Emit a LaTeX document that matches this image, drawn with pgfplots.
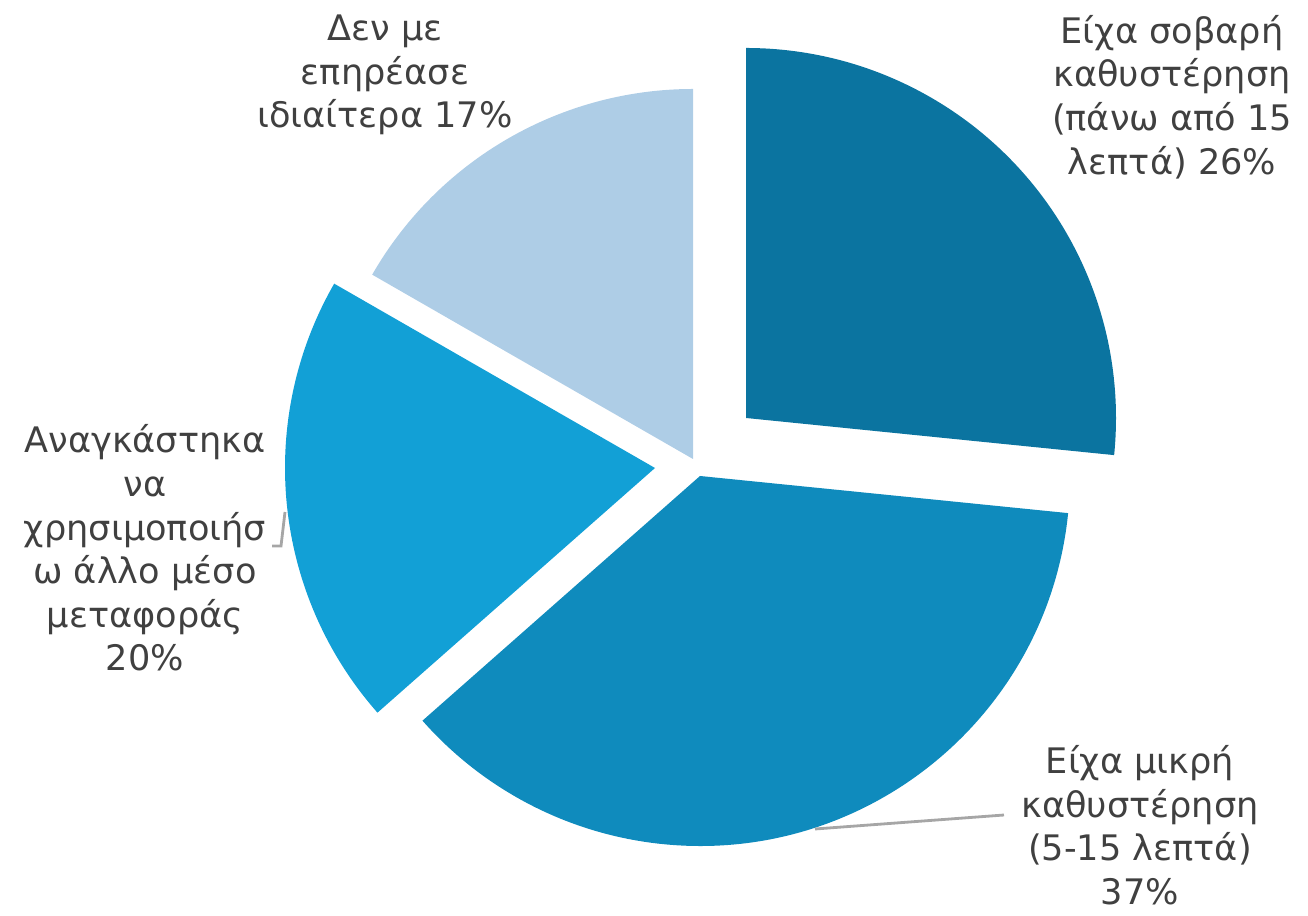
\documentclass[border=0pt]{standalone}
\usepackage{pgfplots}
\pgfplotsset{compat=1.18}
\usepackage{pgfplotstable}
\usepackage{fontspec}
\setmainfont{DejaVu Sans}

\definecolor{slice0}{HTML}{0B74A0}
\definecolor{slice1}{HTML}{0F8BBD}
\definecolor{slice2}{HTML}{12A0D6}
\definecolor{slice3}{HTML}{AECDE6}
\definecolor{labelgray}{HTML}{404040}

% share in percent (as drawn), and where each (exploded) slice has its apex
\pgfplotstableread{
pct  cx  cy
26.6 746 497
36.9 700 439
19.8 655 447
16.7 693 456
}\piedata

\begin{document}
\begin{tikzpicture}
% start/end angle of each slice, clockwise from 12 o'clock
\pgfmathsetmacro\angcur{90}
\foreach \i in {0,...,3}{
  \pgfplotstablegetelem{\i}{pct}\of\piedata \let\p\pgfplotsretval
  \pgfplotstablegetelem{\i}{cx}\of\piedata \expandafter\xdef\csname cx\i\endcsname{\pgfplotsretval}
  \pgfplotstablegetelem{\i}{cy}\of\piedata \expandafter\xdef\csname cy\i\endcsname{\pgfplotsretval}
  \pgfmathsetmacro\b{\angcur-3.6*\p}
  \expandafter\xdef\csname sA\i\endcsname{\angcur}
  \expandafter\xdef\csname sB\i\endcsname{\b}
  \xdef\angcur{\b}
}
\begin{axis}[
    scale only axis,
    width=13.08cm, height=9.15cm,
    xmin=0, xmax=1308, ymin=0, ymax=915,
    hide axis,
    clip=false,
  ]
  \pgfplotsinvokeforeach{0,...,3}{
    \edef\tmp{\noexpand\fill[slice#1] (axis cs:\csname cx#1\endcsname,\csname cy#1\endcsname)
      -- ++(\csname sA#1\endcsname:3.7cm)
      arc[start angle=\csname sA#1\endcsname, end angle=\csname sB#1\endcsname, radius=3.7cm] -- cycle;}
    \tmp
  }
  % leader lines
  \draw[gray!70, line width=0.8pt] (axis cs:815,86) -- (axis cs:1004,100);
  \draw[gray!70, line width=0.8pt] (axis cs:272,369) -- (axis cs:281,369) -- (axis cs:285,403);
  % labels
  \tikzset{lbl/.style={align=center, text=labelgray, inner sep=0pt,
      font=\fontsize{10}{12.4}\selectfont}}
  \node[lbl] at (axis cs:385,840) {Δεν με\\επηρέασε\\ιδιαίτερα 17\%};
  \node[lbl] at (axis cs:1172,818) {Είχα σοβαρή\\καθυστέρηση\\(πάνω από 15\\λεπτά) 26\%};
  \node[lbl] at (axis cs:145,367) {Αναγκάστηκα\\να\\χρησιμοποιήσ\\ω άλλο μέσο\\μεταφοράς\\20\%};
  \node[lbl] at (axis cs:1140,90) {Είχα μικρή\\καθυστέρηση\\(5-15 λεπτά)\\37\%};
\end{axis}
\pgfresetboundingbox
\useasboundingbox (current axis.south west) rectangle (current axis.north east);
\end{tikzpicture}
\end{document}
